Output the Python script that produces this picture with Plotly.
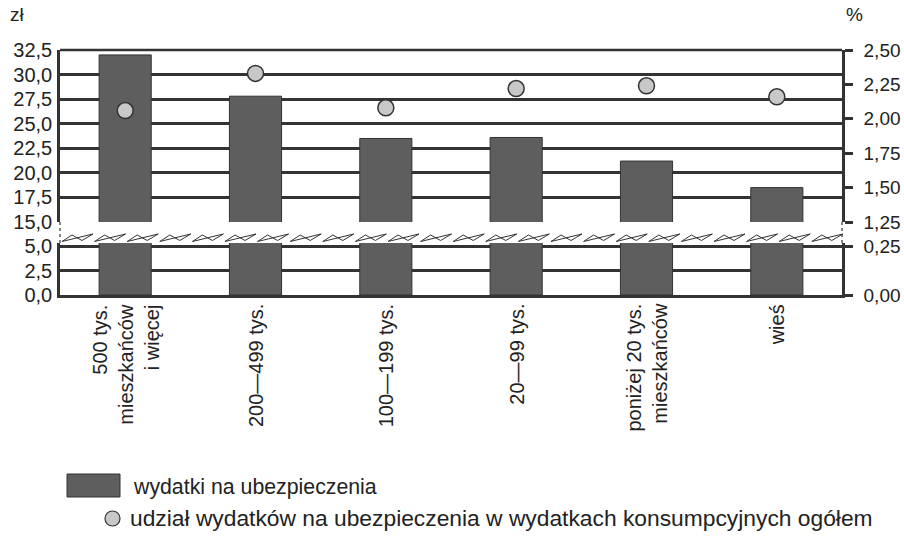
import plotly.graph_objects as go

# ---------------- data ----------------
categories = ["500 tys.<br>mieszkańców<br>i więcej", "200—499 tys.", "100—199 tys.",
              "20—99 tys.", "poniżej 20 tys.<br>mieszkańców", "wieś"]
wydatki = [32.0, 27.8, 23.5, 23.6, 21.2, 18.5]          # zł
udzial = [2.06, 2.33, 2.08, 2.22, 2.24, 2.16]           # %
left_upper_ticks = [15, 17.5, 20, 22.5, 25, 27.5, 30, 32.5]
left_lower_ticks = [0, 2.5, 5]
right_upper_ticks = [1.25, 1.5, 1.75, 2.0, 2.25, 2.5]
right_lower_ticks = [0, 0.25]
bar_name = "wydatki na ubezpieczenia"
dot_name = "udział wydatków na ubezpieczenia w wydatkach konsumpcyjnych ogółem"

# ---------------- geometry ----------------
W, H = 904, 544
L, R, T, B = 60, 62, 50, 249
PW, PH = W - L - R, H - T - B


def px(p):
    return (p - L) / PW


def py(p):
    return (H - B - p) / PH


FONT = "Liberation Sans, Arial, sans-serif"
DARK = "#333333"
TXT = "#222222"
BAR = "#5e5e5e"
DOT = "#c8c8c8"
GW = 2.5

upper_dom = [py(222), 1.0]
lower_dom = [0.0, py(243)]
lower_top = 5 * (295 - 243) / (295 - 246)
lower_top_r = 0.25 * (295 - 243) / (295 - 246)

fig = go.Figure()
fig.add_trace(go.Bar(x=categories, y=wydatki, yaxis="y", width=0.4,
                     marker=dict(color=BAR, line=dict(color=DARK, width=1)),
                     showlegend=False, name=bar_name))
fig.add_trace(go.Bar(x=categories, y=wydatki, yaxis="y2", width=0.4,
                     marker=dict(color=BAR, line=dict(color=DARK, width=1)),
                     showlegend=False, name=bar_name))
fig.add_trace(go.Scatter(x=categories, y=udzial, yaxis="y3", mode="markers",
                         marker=dict(size=16, color=DOT, line=dict(color=DARK, width=1.5)),
                         showlegend=False, name=dot_name))
# empty trace so that the lower right-hand axis is drawn
fig.add_trace(go.Scatter(x=categories, y=[None] * len(categories), yaxis="y4",
                         mode="markers", hoverinfo="skip", showlegend=False))

common_y = dict(showline=True, linewidth=GW, linecolor=DARK, zeroline=False, anchor="x")

shapes = []
# top border
shapes.append(dict(type="line", xref="paper", yref="paper", x0=0, x1=1, y0=1, y1=1,
                   line=dict(color=DARK, width=GW)))
# dotted lines in break band
for xx in (0, 1):
    shapes.append(dict(type="line", xref="paper", yref="paper", x0=xx, x1=xx,
                       y0=py(243), y1=py(222), line=dict(color=DARK, width=1.2, dash="dot")))
# zigzag break symbols
x0 = 62.0
while x0 + 30 <= 842:
    pts = [(x0, 241.5), (x0 + 10, 235.0), (x0 + 20, 240.5), (x0 + 31, 234.0)]
    path = "M " + " L ".join(f"{px(a):.5f},{py(b):.5f}" for a, b in pts) + " Z"
    shapes.append(dict(type="path", xref="paper", yref="paper", path=path,
                       line=dict(color=DARK, width=1)))
    x0 += 32.6
# legend swatches
shapes.append(dict(type="rect", xref="paper", yref="paper", x0=px(67), x1=px(120),
                   y0=py(497), y1=py(474), fillcolor=BAR, line=dict(color=DARK, width=1)))
shapes.append(dict(type="circle", xref="paper", yref="paper", x0=px(105), x1=px(120),
                   y0=py(526), y1=py(511), fillcolor=DOT, line=dict(color=DARK, width=1.2)))

annotations = [
    dict(text="zł", xref="paper", yref="paper", x=px(17), y=py(14), showarrow=False,
         xanchor="center", yanchor="middle", font=dict(size=19, color=TXT)),
    dict(text="%", xref="paper", yref="paper", x=px(854), y=py(14), showarrow=False,
         xanchor="center", yanchor="middle", font=dict(size=19, color=TXT)),
    dict(text=bar_name, xref="paper", yref="paper", x=px(131), y=py(487), showarrow=False,
         xanchor="left", yanchor="middle", font=dict(size=21.3, color=TXT)),
    dict(text=dot_name, xref="paper", yref="paper", x=px(128), y=py(518), showarrow=False,
         xanchor="left", yanchor="middle", font=dict(size=22.8, color=TXT)),
]
# category labels (rotated, lines aligned towards the axis)
for c in categories:
    annotations.append(dict(text=c, x=c, xref="x", yref="paper", y=py(302),
                            xanchor="center", yanchor="top", textangle=-90, align="right",
                            showarrow=False, font=dict(size=20, color=TXT)))

fig.update_layout(
    width=W, height=H, margin=dict(l=L, r=R, t=T, b=B, pad=0, autoexpand=False),
    paper_bgcolor="white", plot_bgcolor="white",
    font=dict(family=FONT, color=TXT),
    separators=", ",
    xaxis=dict(domain=[0, 1], anchor="y2", type="category", range=[-0.5, 5.5],
               showline=True, linewidth=GW, linecolor=DARK, showgrid=False,
               showticklabels=False, ticks=""),
    yaxis=dict(domain=upper_dom, range=[15, 32.5], tickvals=left_upper_ticks,
               tickformat=".1f", showgrid=True, gridcolor=DARK, gridwidth=GW,
               ticks="", ticklabelstandoff=1, tickfont=dict(size=20, color=TXT), **common_y),
    yaxis2=dict(domain=lower_dom, range=[0, lower_top], tickvals=left_lower_ticks,
                tickformat=".1f", showgrid=True, gridcolor=DARK, gridwidth=GW,
                ticks="", ticklabelstandoff=1, tickfont=dict(size=20, color=TXT), **common_y),
    yaxis3=dict(overlaying="y", side="right", range=[1.25, 2.5], tickvals=right_upper_ticks,
                tickformat=".2f", showgrid=False, ticks="outside", ticklen=8,
                tickwidth=GW, tickcolor=DARK, ticklabelstandoff=7,
                tickfont=dict(size=19, color=TXT), **common_y),
    yaxis4=dict(overlaying="y2", side="right", range=[0, lower_top_r], tickvals=right_lower_ticks,
                tickformat=".2f", showgrid=False, ticks="outside", ticklen=8,
                tickwidth=GW, tickcolor=DARK, ticklabelstandoff=7,
                tickfont=dict(size=19, color=TXT), **common_y),
    shapes=shapes,
    annotations=annotations,
)

fig.write_html("out.html", config={"displayModeBar": False},
               post_script="document.body.style.margin='0';"
                           "document.body.style.overflow='hidden';")
